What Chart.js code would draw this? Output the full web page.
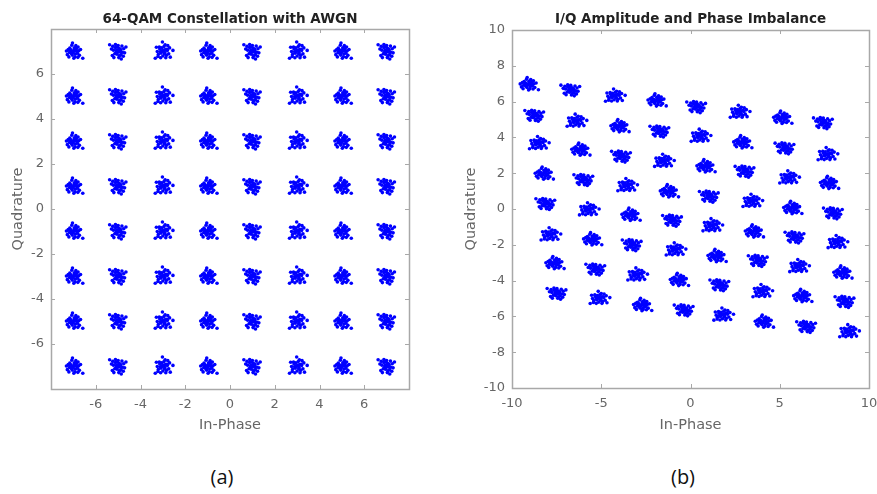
<!DOCTYPE html>
<html>
<head>
<meta charset="utf-8">
<script src="https://cdn.jsdelivr.net/npm/chart.js@4.4.0/dist/chart.umd.min.js"></script>
<style>
  html, body { margin: 0; padding: 0; background: #fff; }
  body { width: 877px; height: 494px; position: relative; overflow: hidden; }
  .box { position: absolute; top: 0; }
  .cap { position: absolute; top: 463px; font-family: "Open Sans", "Noto Sans", sans-serif; font-size: 20px; color: #111; transform: translateX(-50%); }
</style>
</head>
<body>
<div class="box" style="left:0;width:440px;height:440px;"><canvas id="c1" width="440" height="440"></canvas></div>
<div class="box" style="left:440px;width:437px;height:440px;"><canvas id="c2" width="437" height="440"></canvas></div>
<div class="cap" style="left:222px;">(a)</div>
<div class="cap" style="left:683px;">(b)</div>
<script>
// ---------- Data ----------
// (a) ideal 64-QAM levels (I and Q)
const qamLevels = [-7, -5, -3, -1, 1, 3, 5, 7];
const ticksA = [-6, -4, -2, 0, 2, 4, 6];

// (b) cluster centres, row by row (Q = 7 ... -7), I = -7 ... 7
const imbX = [
  [-9.10, -6.71, -4.28, -1.94, 0.34, 2.71, 5.10, 7.44],
  [-8.73, -6.43, -4.02, -1.72, 0.52, 2.86, 5.29, 7.63],
  [-8.54, -6.21, -3.87, -1.53, 0.80, 3.05, 5.48, 7.72],
  [-8.26, -5.98, -3.59, -1.25, 1.05, 3.42, 5.66, 8.00],
  [-8.11, -5.74, -3.40, -1.01, 1.18, 3.51, 5.85, 8.19],
  [-7.89, -5.55, -3.27, -0.88, 1.42, 3.79, 6.04, 8.47],
  [-7.66, -5.31, -3.03, -0.69, 1.64, 3.98, 6.22, 8.65],
  [-7.48, -5.14, -2.75, -0.36, 1.79, 4.07, 6.50, 8.84]
];
const imbY = [
  [6.96, 6.64, 6.30, 6.06, 5.70, 5.40, 5.09, 4.81],
  [5.22, 4.90, 4.62, 4.34, 4.06, 3.72, 3.40, 3.03],
  [3.65, 3.31, 2.94, 2.66, 2.38, 2.10, 1.73, 1.45],
  [1.97, 1.63, 1.30, 0.98, 0.70, 0.42, 0.05, -0.23],
  [0.29, -0.05, -0.33, -0.64, -0.94, -1.26, -1.58, -1.88],
  [-1.45, -1.70, -2.01, -2.29, -2.63, -2.89, -3.22, -3.56],
  [-3.03, -3.37, -3.69, -3.97, -4.25, -4.62, -4.87, -5.18],
  [-4.72, -5.00, -5.37, -5.65, -5.93, -6.30, -6.58, -6.86]
];
const ticksBx = [-10, -5, 0, 5, 10];
const ticksBy = [-10, -8, -6, -4, -2, 0, 2, 4, 6, 8, 10];

// noise scatter shapes read from the clusters (offsets around each centre)
const spreadA1 = [[0,0],[0.08,0.04],[-0.1,0.06],[0.18,-0.08],[-0.17,-0.04],[0.04,0.17],[-0.05,-0.16],[0.14,0.13],[-0.16,0.15],[0.24,0.03],[-0.23,0.09],[0.07,-0.23],[-0.09,-0.09],[0.27,-0.17],[-0.27,-0.14],[0.11,0.26],[-0.07,0.28],[0.2,-0.26],[-0.2,-0.24],[0.32,0.09],[-0.31,0.02],[0.02,-0.3],[0.16,0.01],[-0.13,0.0],[0.04,0.09],[-0.02,-0.04],[0.42,-0.3],[0.09,-0.11],[-0.04,0.38],[0.21,0.2]];
const spreadA2 = [[0.02,-0.02],[-0.07,0.05],[0.1,0.1],[-0.15,-0.1],[0.19,-0.03],[-0.21,0.06],[0.06,-0.19],[-0.03,0.2],[0.13,-0.14],[-0.12,0.18],[0.25,0.12],[-0.26,-0.18],[0.0,0.27],[0.03,-0.27],[0.29,-0.06],[-0.3,0.11],[0.17,0.24],[-0.19,-0.27],[0.23,-0.21],[-0.24,0.23],[0.11,0.03],[-0.09,-0.03],[0.05,0.13],[-0.05,-0.12],[-0.38,0.3],[0.35,0.2],[0.14,-0.33],[-0.12,0.31],[0.07,0.0],[-0.01,0.07]];
const spreadA3 = [[-0.01,0.01],[0.09,-0.05],[-0.08,-0.07],[0.12,0.09],[-0.14,0.11],[0.2,0.05],[-0.2,-0.12],[0.0,-0.2],[0.05,0.22],[0.16,-0.17],[-0.16,0.2],[0.26,-0.1],[-0.25,0.0],[0.1,0.3],[-0.1,-0.28],[0.3,0.16],[-0.29,0.19],[0.22,0.26],[-0.22,-0.22],[0.13,-0.28],[0.04,0.06],[-0.04,0.03],[0.07,-0.1],[-0.11,-0.01],[0.33,-0.25],[-0.34,-0.3],[0.45,0.05],[-0.02,0.42],[0.18,0.1],[-0.06,0.16]];
const spreadB1 = [[0,0],[0.12,0.03],[-0.13,0.07],[0.25,-0.08],[-0.24,-0.05],[0.05,0.18],[-0.06,-0.17],[0.2,0.14],[-0.22,0.16],[0.33,0.04],[-0.32,0.1],[0.1,-0.24],[-0.12,-0.1],[0.38,-0.17],[-0.37,-0.14],[0.15,0.27],[-0.09,0.29],[0.28,-0.26],[-0.28,-0.24],[0.45,0.08],[-0.44,0.03],[0.03,-0.31],[0.21,0.0],[-0.18,0.01],[0.06,0.09],[-0.03,-0.05],[0.58,-0.3],[0.13,-0.12],[-0.05,0.38],[0.3,0.2]];
const spreadB2 = [[0.02,-0.02],[-0.1,0.05],[0.14,0.1],[-0.2,-0.1],[0.27,-0.03],[-0.29,0.06],[0.08,-0.19],[-0.04,0.2],[0.18,-0.14],[-0.17,0.18],[0.35,0.12],[-0.36,-0.17],[0.0,0.27],[0.04,-0.27],[0.41,-0.06],[-0.42,0.1],[0.24,0.23],[-0.26,-0.26],[0.32,-0.21],[-0.33,0.22],[0.15,0.03],[-0.12,-0.03],[0.07,0.13],[-0.07,-0.12],[-0.55,0.28],[0.5,0.2],[0.2,-0.32],[-0.17,0.3],[0.1,0.0],[-0.01,0.07]];
const spreadB3 = [[-0.01,0.01],[0.12,-0.05],[-0.11,-0.07],[0.17,0.09],[-0.19,0.11],[0.28,0.05],[-0.28,-0.12],[0.0,-0.2],[0.07,0.22],[0.22,-0.17],[-0.22,0.2],[0.36,-0.1],[-0.35,0.0],[0.14,0.28],[-0.14,-0.27],[0.42,0.15],[-0.4,0.18],[0.3,0.25],[-0.3,-0.22],[0.18,-0.27],[0.05,0.06],[-0.05,0.03],[0.1,-0.1],[-0.15,-0.01],[0.46,-0.24],[-0.48,-0.28],[0.62,0.05],[-0.03,0.4],[0.25,0.1],[-0.08,0.16]];

// ---------- Build point tables ----------
const shapesA = [spreadA1, spreadA2, spreadA3];
const shapesB = [spreadB1, spreadB2, spreadB3];
const pointsA = [];
qamLevels.forEach((q, r) => qamLevels.forEach((i, c) => {
  const s = shapesA[(r * 8 + c + r) % 3];
  s.forEach(o => pointsA.push({x: i + o[0], y: q + o[1]}));
}));
const pointsB = [];
for (let r = 0; r < 8; r++) for (let c = 0; c < 8; c++) {
  const s = shapesB[(r * 8 + c + 2 * r) % 3];
  s.forEach(o => pointsB.push({x: imbX[r][c] + o[0], y: imbY[r][c] + o[1]}));
}

// ---------- Frame + inward tick marks (MATLAB style) ----------
const framePlugin = {
  id: 'frame',
  afterDraw(chart, args, opts) {
    const {ctx, chartArea: a, scales} = chart;
    ctx.save();
    ctx.strokeStyle = '#a8a8a8';
    ctx.lineWidth = 1;
    ctx.beginPath();
    const len = 4;
    opts.xt.forEach(v => {
      const px = Math.round(scales.x.getPixelForValue(v)) + 0.5;
      ctx.moveTo(px, a.bottom); ctx.lineTo(px, a.bottom - len);
      ctx.moveTo(px, a.top); ctx.lineTo(px, a.top + len);
    });
    opts.yt.forEach(v => {
      const py = Math.round(scales.y.getPixelForValue(v)) + 0.5;
      ctx.moveTo(a.left, py); ctx.lineTo(a.left + len, py);
      ctx.moveTo(a.right, py); ctx.lineTo(a.right - len, py);
    });
    ctx.stroke();
    ctx.lineWidth = 1.5;
    ctx.strokeRect(Math.round(a.left) + 0.5, Math.round(a.top) + 0.5, Math.round(a.right - a.left), Math.round(a.bottom - a.top));
    ctx.restore();
  }
};

const FONT = '"DejaVu Sans", "Liberation Sans", Arial, sans-serif';
const GREY = '#666';

function makeChart(id, pts, xr, yr, xt, yt, title, pad, yW, xH, titlePad) {
  return new Chart(document.getElementById(id), {
    type: 'scatter',
    data: { datasets: [{ data: pts, backgroundColor: '#0000ff', borderWidth: 0, pointRadius: 1.8, pointHoverRadius: 1.8 }] },
    plugins: [framePlugin],
    options: {
      responsive: false, animation: false, events: [],
      layout: { padding: pad },
      plugins: {
        legend: { display: false }, tooltip: { enabled: false },
        title: { display: true, text: title, fullSize: false, color: '#222',
                 font: { family: FONT, size: 13.5, weight: 'bold', lineHeight: 1.2 },
                 padding: titlePad },
        frame: { xt: xt, yt: yt }
      },
      scales: {
        x: {
          type: 'linear', min: xr[0], max: xr[1],
          afterBuildTicks: s => { s.ticks = xt.map(v => ({value: v})); },
          afterFit: s => { s.height = xH; s.paddingLeft = 0; s.paddingRight = 0; },
          grid: { display: false, drawTicks: false }, border: { display: false },
          ticks: { color: GREY, font: { family: FONT, size: 13 }, padding: 8, maxRotation: 0, autoSkip: false },
          title: { display: true, text: 'In-Phase', color: GREY, font: { family: FONT, size: 14.5, lineHeight: 1.2 }, padding: { top: 4, bottom: 4.3 } }
        },
        y: {
          type: 'linear', min: yr[0], max: yr[1],
          afterBuildTicks: s => { s.ticks = yt.map(v => ({value: v})); },
          afterFit: s => { s.width = yW; s.paddingTop = 0; s.paddingBottom = 0; },
          grid: { display: false, drawTicks: false }, border: { display: false },
          ticks: { color: GREY, font: { family: FONT, size: 13 }, padding: 7, autoSkip: false },
          title: { display: true, text: 'Quadrature', color: GREY, font: { family: FONT, size: 14.5, lineHeight: 1.2 }, padding: { top: 4.3, bottom: 4 } }
        }
      }
    }
  });
}

makeChart('c1', pointsA, [-8, 8], [-8, 8], ticksA, ticksA,
  '64-QAM Constellation with AWGN', { left: 5, right: 31, top: 0, bottom: 2 }, 46, 49, { top: 10.9, bottom: 1.9 });
makeChart('c2', pointsB, [-10, 10], [-10, 10], ticksBx, ticksBy,
  'I/Q Amplitude and Phase Imbalance', { left: 18, right: 8, top: 0, bottom: 2 }, 54, 50, { top: 10.9, bottom: 2.9 });
</script>
</body>
</html>
